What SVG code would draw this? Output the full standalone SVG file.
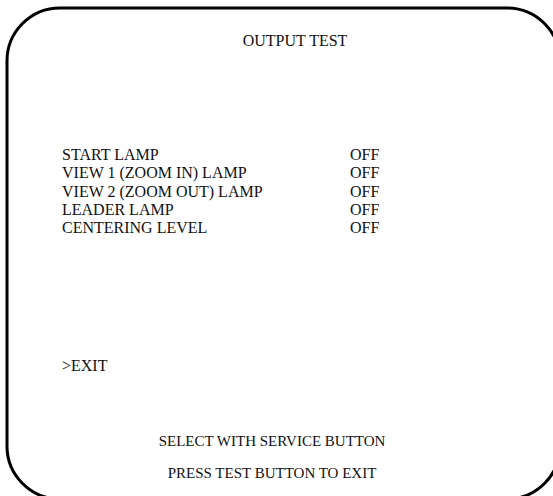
<svg xmlns="http://www.w3.org/2000/svg" width="553" height="496" viewBox="0 0 553 496">
<style>
text{font-family:"Liberation Serif","Times New Roman",serif;font-size:16px;fill:#111}
.small{font-size:15px}
.frame{fill:none;stroke:#000;stroke-width:3}
</style>
<rect width="553" height="496" fill="#fff"/>
<rect class="frame" x="7" y="8" width="553" height="491" rx="53" ry="53"/>
<text x="295" y="46" text-anchor="middle">OUTPUT TEST</text>
<g id="items">
<text x="62" y="160">START LAMP</text>
<text x="62" y="178">VIEW 1 (ZOOM IN) LAMP</text>
<text x="62" y="196.5">VIEW 2 (ZOOM OUT) LAMP</text>
<text x="62" y="215">LEADER LAMP</text>
<text x="62" y="233">CENTERING LEVEL</text>
<text x="350" y="160">OFF</text>
<text x="350" y="178">OFF</text>
<text x="350" y="196.5">OFF</text>
<text x="350" y="215">OFF</text>
<text x="350" y="233">OFF</text>
</g>
<text x="62" y="371">&gt;EXIT</text>
<text class="small" x="272" y="446" text-anchor="middle">SELECT WITH SERVICE BUTTON</text>
<text class="small" x="272" y="478" text-anchor="middle">PRESS TEST BUTTON TO EXIT</text>
</svg>
